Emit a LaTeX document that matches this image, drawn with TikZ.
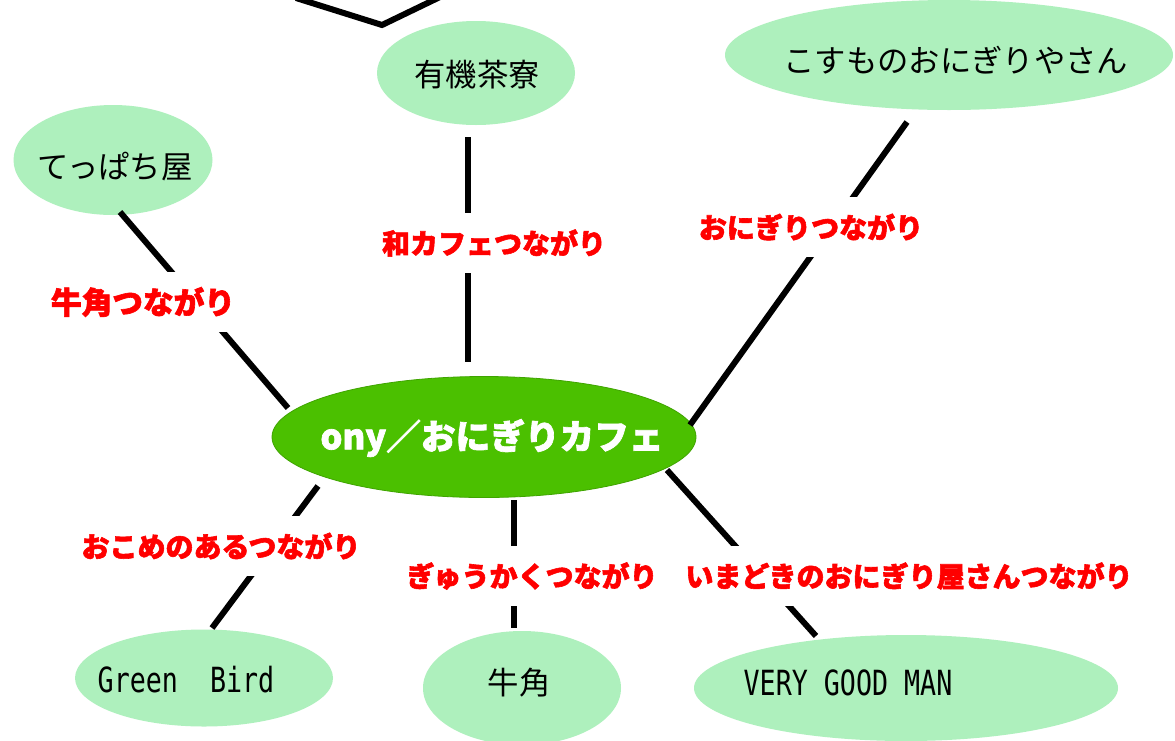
\documentclass[tikz,border=0pt]{standalone}
\usepackage{fontspec}
\usetikzlibrary{shapes.geometric}
\newfontfamily\jp{Noto Sans CJK JP}[BoldFeatures={FakeBold=2}]
\newfontfamily\mono{DejaVu Sans Mono}
\definecolor{bubfill}{HTML}{AEF0BD}
\definecolor{cenfill}{HTML}{4BC000}
\definecolor{cenedge}{HTML}{3FA400}
\def\px{0.75pt}
\tikzset{
  bub/.style={ellipse, fill=bubfill, draw=none, inner sep=0pt},
  cenbub/.style={ellipse, fill=cenfill, draw=cenedge, line width=0.6pt, inner sep=0pt},
  shoptext/.style={font=\jp\fontsize{23.5pt}{28pt}\selectfont, text=black, inner sep=0pt},
  shoplatin/.style={font=\mono\fontsize{20pt}{24pt}\selectfont, text=black, inner sep=0pt},
  reltext/.style={font=\jp\bfseries\fontsize{21pt}{25pt}\selectfont, text=red, fill=white,
              inner xsep=2pt, minimum height=60*\px},
  linkline/.style={line width=6*\px, black, line cap=butt, line join=miter}
}
\begin{document}
\begin{tikzpicture}[x=0.75pt,y=-0.75pt]
\useasboundingbox (0,0) rectangle (1175,740);
\clip (0,0) rectangle (1175,740);
\fill[white] (0,0) rectangle (1175,740);

% bubbles
\node[bub, minimum width=198*\px, minimum height=104*\px] (yuki) at (476,73) {};
\node[bub, minimum width=448*\px, minimum height=110*\px] (kosu) at (949,55) {};
\node[bub, minimum width=199*\px, minimum height=110*\px] (tepp) at (113,160) {};
\node[bub, minimum width=258*\px, minimum height=97*\px] (gbird) at (204,678) {};
\node[bub, minimum width=198*\px, minimum height=114*\px] (gyu) at (522,688) {};
\node[bub, minimum width=424*\px, minimum height=106*\px] (very) at (906,688) {};
\node[cenbub, minimum width=424*\px, minimum height=121*\px] (cen) at (484,437) {};

% connector end points
\coordinate (topA) at (296,-2);
\coordinate (topV) at (382,25);
\coordinate (topB) at (440,-3);
\coordinate (t1) at (120,212); \coordinate (c1) at (288,408);
\coordinate (y1) at (468,137); \coordinate (c2) at (468,362);
\coordinate (k1) at (907,122); \coordinate (c3) at (690,425);
\coordinate (c4) at (318,486); \coordinate (g1) at (212,628);
\coordinate (c5) at (514,500); \coordinate (u1) at (514,628);
\coordinate (c6) at (667,470); \coordinate (v1) at (816,636);

\draw[linkline] (topA) -- (topV) -- (topB);
\draw[linkline] (t1) -- (c1);
\draw[linkline] (y1) -- (c2);
\draw[linkline] (k1) -- (c3);
\draw[linkline] (c4) -- (g1);
\draw[linkline] (c5) -- (u1);
\draw[linkline] (c6) -- (v1);

% relation labels
\node[reltext, font=\jp\bfseries\fontsize{23pt}{27pt}\selectfont] (r1) at (143,302) {牛角つながり};
\node[reltext] (r2) at (494,243) {和カフェつながり};
\node[reltext] (r3) at (811,227) {おにぎりつながり};
\node[reltext] (r4) at (221,546) {おこめのあるつながり};
\node[reltext] (r5) at (532,576) {ぎゅうかくつながり};
\node[reltext] (r6) at (909,576) {いまどきのおにぎり屋さんつながり};

% texts
\node[shoptext] (yukit) at (477,75) {有機茶寮};
\node[shoptext] (kosut) at (956,60) {こすものおにぎりやさん};
\node[shoptext] (teppt) at (115,167) {てっぱち屋};
\node[shoptext] (gyut) at (519,683) {牛角};
\node[shoplatin] (gbirdt) at (186,680) {\scalebox{1}[1.3]{Green\ \ Bird}};
\node[shoplatin] (veryt) at (848,683) {\scalebox{1}[1.3]{VERY GOOD MAN}};
\node[font=\jp\bfseries\fontsize{26pt}{30pt}\selectfont, text=white, inner sep=0pt] (cent) at (492,438) {ony／おにぎりカフェ};
\end{tikzpicture}
\end{document}
